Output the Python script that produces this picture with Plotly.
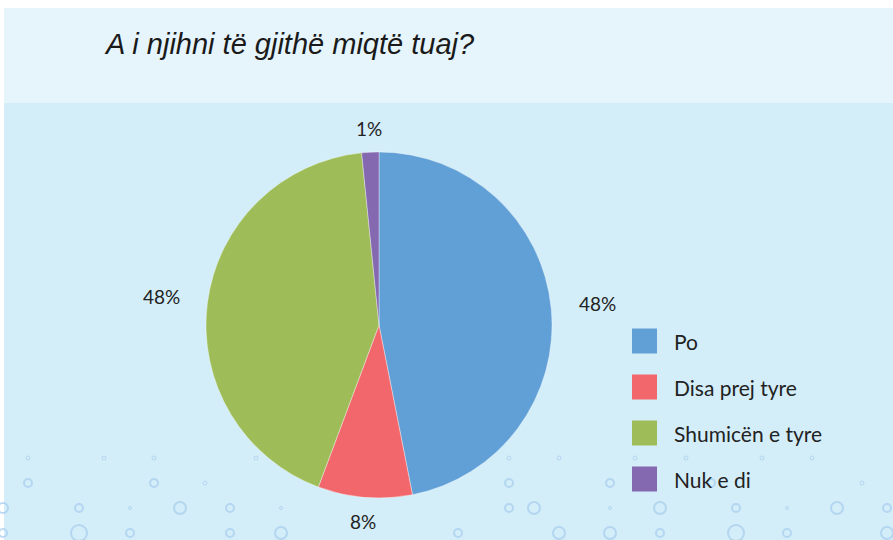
import math
import plotly.graph_objects as go

title = "A i njihni të gjithë miqtë tuaj?"
labels = ["Po", "Disa prej tyre", "Shumicën e tyre", "Nuk e di"]
values = [46.9, 8.8, 42.7, 1.6]
label_text = ["48%", "8%", "48%", "1%"]
colors = ["#619FD7", "#F2676B", "#9EBC58", "#8468B0"]

W, H = 893, 540
cx, cy, R = 379, 325, 173  # pixel layout of the pie


def px(x):
    return x / W


def py(y):
    return 1 - y / H


fig = go.Figure()
fig.add_trace(go.Pie(
    labels=labels, values=values, sort=False, direction="clockwise", rotation=0,
    marker=dict(colors=colors, line=dict(color="rgba(255,255,255,0.6)", width=0.6)),
    textinfo="none", hoverinfo="label+percent", showlegend=False,
    domain=dict(x=[px(cx - R), px(cx + R)], y=[py(cy + R), py(cy - R)]),
))

shapes = [
    dict(type="rect", xref="paper", yref="paper", x0=px(4), x1=1, y0=py(103), y1=py(8),
         fillcolor="#E6F5FC", line=dict(width=0), layer="below"),
    dict(type="rect", xref="paper", yref="paper", x0=px(4), x1=1, y0=0, y1=py(103),
         fillcolor="#D3EEF9", line=dict(width=0), layer="below"),
]

# decorative bubbles along the bottom of the background
bubble_rows = [
    (458, [(28, 2), (104, 2), (154, 2), (256, 2), (509, 2), (559, 2), (635, 2), (686, 2), (762, 2), (812, 2)]),
    (483, [(28, 4), (154, 4), (205, 2), (509, 4), (610, 4), (711, 4), (862, 2)]),
    (508, [(3, 5), (79, 4), (130, 1.5), (180, 6), (230, 4), (281, 1.5), (509, 4), (534, 6), (610, 1.5),
           (660, 6), (736, 4), (787, 1.5), (837, 6), (887, 4)]),
    (533, [(3, 4), (79, 8), (130, 4), (230, 4), (281, 6), (458, 4), (559, 6), (610, 6), (660, 4),
           (736, 8), (787, 4), (887, 6)]),
]
for by, items in bubble_rows:
    for bx, br in items:
        shapes.append(dict(type="circle", xref="paper", yref="paper", layer="below",
                           x0=px(bx - br), x1=px(bx + br), y0=py(by + br), y1=py(by - br),
                           line=dict(color="rgba(170,205,238,0.75)", width=2 if br > 3 else 1)))

annotations = [
    dict(text=title, xref="paper", yref="paper", x=px(102), y=py(44), xanchor="left",
         yanchor="middle", showarrow=False,
         font=dict(family="Liberation Sans Narrow, Liberation Sans, Arial", size=29,
                   color="#1a1a1a", style="italic")),
]

# slice labels placed outside the pie, from the data's cumulative angles
total = sum(values)
cum = 0
for v, t in zip(values, label_text):
    mid = (cum + v / 2) / total * 2 * math.pi
    cum += v
    s, c = math.sin(mid), math.cos(mid)
    r = R + 22 + 25 * abs(s)
    annotations.append(dict(text=t, xref="paper", yref="paper", x=px(cx + r * s), y=py(cy - r * c),
                            xanchor="center", yanchor="middle", showarrow=False,
                            font=dict(family="Lato, Noto Sans", size=19, color="#222")))

# legend drawn manually
for i, (lab, col) in enumerate(zip(labels, colors)):
    yc = 341 + i * 46
    shapes.append(dict(type="rect", xref="paper", yref="paper", x0=px(632), x1=px(657),
                       y0=py(yc + 12.5), y1=py(yc - 12.5), fillcolor=col, line=dict(width=0)))
    annotations.append(dict(text=lab, xref="paper", yref="paper", x=px(672), y=py(yc),
                            xanchor="left", yanchor="middle", showarrow=False,
                            font=dict(family="Lato, Noto Sans", size=21, color="#222")))

fig.update_layout(
    width=W, height=H, margin=dict(l=0, r=0, t=0, b=0),
    paper_bgcolor="white", plot_bgcolor="white",
    shapes=shapes, annotations=annotations,
)
fig.write_html("out.html", config={"displayModeBar": False},
               post_script="document.body.style.margin='0';")
